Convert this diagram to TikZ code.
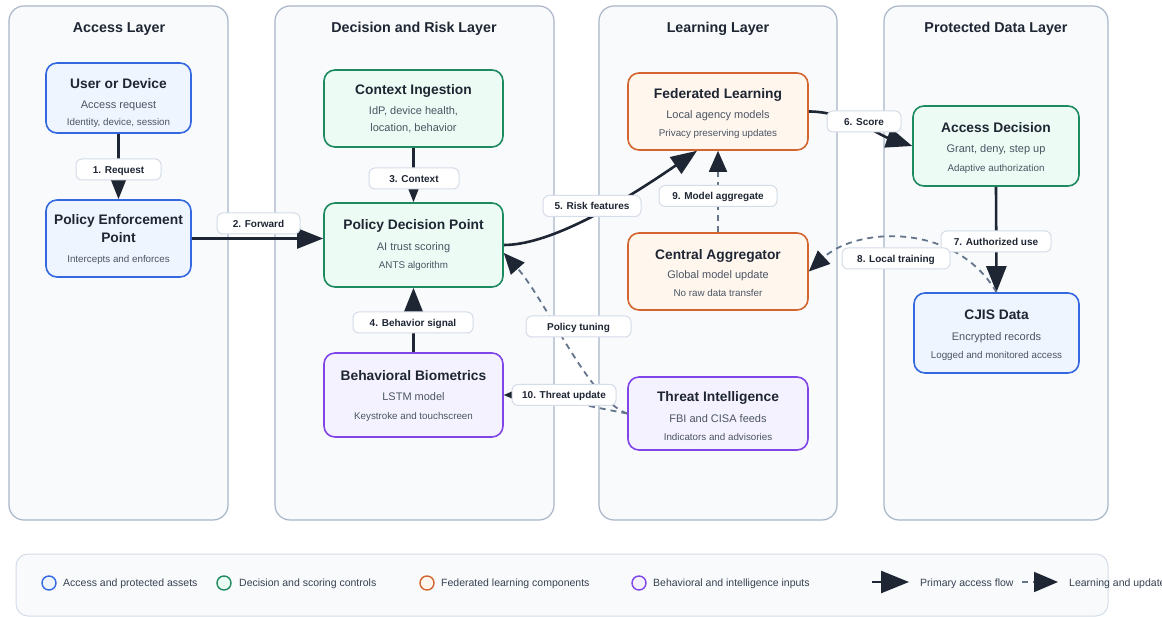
\documentclass[tikz,border=0pt]{standalone}
\usepackage{fontspec}
\setmainfont{Liberation Sans}
\usetikzlibrary{arrows.meta,calc}

\definecolor{accB}{HTML}{3468E0}
\definecolor{fillB}{HTML}{EFF5FF}
\definecolor{accG}{HTML}{1E8A60}
\definecolor{fillG}{HTML}{ECFBF4}
\definecolor{accO}{HTML}{D4652F}
\definecolor{fillO}{HTML}{FFF6EE}
\definecolor{accP}{HTML}{8045E6}
\definecolor{fillP}{HTML}{F5F2FF}
\definecolor{laneFill}{HTML}{F8FAFC}
\definecolor{laneLine}{HTML}{A9B5C8}
\definecolor{ink}{HTML}{1F2633}
\definecolor{subInk}{HTML}{4B5563}
\definecolor{keyInk}{HTML}{374151}
\definecolor{dashInk}{HTML}{64748B}
\definecolor{tagLine}{HTML}{D5DDE8}

\begin{document}
\begin{tikzpicture}[x=1pt,y=-1pt,
  lane/.style={draw=laneLine, fill=laneFill, line width=1.2pt, rounded corners=15pt, inner sep=0pt},
  lanetitle/.style={anchor=base, inner sep=0pt, text=ink, font=\fontsize{14.3}{16}\selectfont\bfseries},
  comp/.style={draw=#1, line width=1.6pt, rounded corners=11pt, inner sep=0pt},
  blueBox/.style={comp=accB, fill=fillB},
  greenBox/.style={comp=accG, fill=fillG},
  orangeBox/.style={comp=accO, fill=fillO},
  purpleBox/.style={comp=accP, fill=fillP},
  ttl/.style={anchor=base, inner sep=0pt, text=ink, font=\fontsize{13.8}{16}\selectfont\bfseries},
  sub/.style={anchor=base, inner sep=0pt, text=subInk, font=\fontsize{11}{13}\selectfont},
  dtl/.style={anchor=base, inner sep=0pt, text=subInk, font=\fontsize{9.8}{12}\selectfont},
  tag/.style={draw=tagLine, fill=white, line width=1pt, rounded corners=6pt,
    minimum height=21pt, inner xsep=4pt, inner ysep=0pt, text height=7.2pt, text depth=0pt,
    text=ink, font=\fontsize{10}{12}\selectfont\bfseries},
  flow/.style={draw=ink, line width=2.6pt, -{Triangle[length=26pt,width=20pt]}},
  learn/.style={draw=dashInk, line width=1.8pt, dash pattern=on 6pt off 5pt,
    -{Triangle[length=21pt,width=18pt,color=ink]}},
  keydot/.style={circle, draw=#1, line width=1.4pt, minimum size=14pt, inner sep=0pt},
  keytext/.style={anchor=base west, inner sep=0pt, text=keyInk, font=\fontsize{10.5}{12}\selectfont},
]
\useasboundingbox (0,0) rectangle (1162,617);
\clip (0,0) rectangle (1162,617);
\fill[white] (0,0) rectangle (1162,617);

% ---- swimlanes ----
\node[lane, minimum width=219pt, minimum height=514pt] (lane-access) at (118.5,263) {};
\node[lane, minimum width=279pt, minimum height=514pt] (lane-risk) at (414.5,263) {};
\node[lane, minimum width=238pt, minimum height=514pt] (lane-learn) at (718,263) {};
\node[lane, minimum width=224pt, minimum height=514pt] (lane-data) at (996,263) {};
\node[lanetitle] (lane-access-t) at (119,33) {Access Layer};
\node[lanetitle] (lane-risk-t) at (414,33) {Decision and Risk Layer};
\node[lanetitle] (lane-learn-t) at (718,33) {Learning Layer};
\node[lanetitle] (lane-data-t) at (996,33) {Protected Data Layer};

% ---- components ----
\node[blueBox, minimum width=145pt, minimum height=70pt] (user) at (118.5,98) {};
\node[ttl] (user-t) at (118.5,89) {User or Device};
\node[sub] (user-s) at (118.5,109) {Access request};
\node[dtl] (user-d) at (118.5,125.5) {Identity, device, session};

\node[blueBox, minimum width=145pt, minimum height=77pt] (pep) at (118.5,238.5) {};
\node[ttl] (pep-t1) at (118.5,225) {Policy Enforcement};
\node[ttl] (pep-t2) at (118.5,243) {Point};
\node[dtl] (pep-d) at (118.5,262.5) {Intercepts and enforces};

\node[greenBox, minimum width=179pt, minimum height=77pt] (ctx) at (413.5,108.5) {};
\node[ttl] (ctx-t) at (413.5,95) {Context Ingestion};
\node[sub] (ctx-s1) at (413.5,115) {IdP, device health,};
\node[sub] (ctx-s2) at (413.5,132) {location, behavior};

\node[greenBox, minimum width=179pt, minimum height=84pt] (pdp) at (413.5,245) {};
\node[ttl] (pdp-t) at (413.5,230) {Policy Decision Point};
\node[sub] (pdp-s) at (413.5,251) {AI trust scoring};
\node[dtl] (pdp-d) at (413.5,268.5) {ANTS algorithm};

\node[purpleBox, minimum width=179pt, minimum height=84pt] (bio) at (413.5,395) {};
\node[ttl] (bio-t) at (413.5,381) {Behavioral Biometrics};
\node[sub] (bio-s) at (413.5,401) {LSTM model};
\node[dtl] (bio-d) at (413.5,419.5) {Keystroke and touchscreen};

\node[orangeBox, minimum width=180pt, minimum height=77pt] (fl) at (718,111.5) {};
\node[ttl] (fl-t) at (718,99) {Federated Learning};
\node[sub] (fl-s) at (718,119) {Local agency models};
\node[dtl] (fl-d) at (718,136.5) {Privacy preserving updates};

\node[orangeBox, minimum width=180pt, minimum height=77pt] (agg) at (718,271.5) {};
\node[ttl] (agg-t) at (718,260) {Central Aggregator};
\node[sub] (agg-s) at (718,279) {Global model update};
\node[dtl] (agg-d) at (718,296.5) {No raw data transfer};

\node[purpleBox, minimum width=180pt, minimum height=73pt] (ti) at (718,413.5) {};
\node[ttl] (ti-t) at (718,402) {Threat Intelligence};
\node[sub] (ti-s) at (718,423) {FBI and CISA feeds};
\node[dtl] (ti-d) at (718,440.5) {Indicators and advisories};

\node[greenBox, minimum width=166pt, minimum height=80pt] (ad) at (996,146) {};
\node[ttl] (ad-t) at (996,133) {Access Decision};
\node[sub] (ad-s) at (996,153) {Grant, deny, step up};
\node[dtl] (ad-d) at (996,171.5) {Adaptive authorization};

\node[blueBox, minimum width=165pt, minimum height=80pt] (cjis) at (996.5,333) {};
\node[ttl] (cjis-t) at (996.5,320) {CJIS Data};
\node[sub] (cjis-s) at (996.5,341) {Encrypted records};
\node[dtl] (cjis-d) at (996.5,358.5) {Logged and monitored access};

% ---- connector end points off the box centres ----
\coordinate (fl-in) at ($(fl.south)+(-21,0)$);
\coordinate (pdp-pt) at ($(pdp.east)+(0,8)$);

% ---- primary access flow ----
\draw[flow] (user.south) -- (pep.north);
\draw[flow] (pep.east) -- (pep.east -| pdp.west);
\draw[flow] (ctx.south) -- (pdp.north);
\draw[flow] (bio.north) -- (pdp.south);
\draw[flow] (pdp.east) .. controls +(42,0) and +(-87,60) .. (fl-in);
\draw[flow] (fl.east) .. controls +(37,0) and +(-33,-11) .. (ad.west);
\draw[flow] (ad.south) -- (cjis.north);

% ---- learning and update flow ----
\draw[learn] (cjis.north) .. controls +(-42,-71) and +(47,-44) .. (agg.east);
\draw[learn] (agg.north) -- (fl.south);
\draw[learn] (ti.west) .. controls +(-43,-8) and +(37,0) .. (bio.east);
\draw[learn] (ti.west) .. controls +(-38,-13) and +(42,47) .. (pdp-pt);

% ---- connector labels ----
\node[tag, minimum width=85pt] (tag1) at (118.5,169.5) {1. Request};
\node[tag, minimum width=83pt] (tag2) at (258.5,223.5) {2. Forward};
\node[tag, minimum width=90pt] (tag3) at (414,178.5) {3. Context};
\node[tag, minimum width=120pt] (tag4) at (413,322.5) {4. Behavior signal};
\node[tag, minimum width=98pt] (tag5) at (592,206) {5. Risk features};
\node[tag, minimum width=74pt] (tag6) at (864,121.5) {6. Score};
\node[tag, minimum width=110pt] (tag7) at (996,241.5) {7. Authorized use};
\node[tag, minimum width=108pt] (tag8) at (896,258.5) {8. Local training};
\node[tag, minimum width=118pt] (tag9) at (718,196) {9. Model aggregate};
\node[tag, minimum width=105pt] (tagpt) at (578.5,326.5) {Policy tuning};
\node[tag, minimum width=104pt] (tag10) at (564,395) {10. Threat update};

% ---- legend ----
\node[draw=tagLine, fill=laneFill, line width=1pt, rounded corners=12pt, inner sep=0pt,
      minimum width=1092pt, minimum height=62pt] (legend) at (562,585) {};
\node[keydot=accB, fill=fillB] (key-b) at (49,583) {};
\node[keytext] (key-b-t) at (63,586.8) {Access and protected assets};
\node[keydot=accG, fill=fillG] (key-g) at (224,583) {};
\node[keytext] (key-g-t) at (239,586.8) {Decision and scoring controls};
\node[keydot=accO, fill=fillO] (key-o) at (427,583) {};
\node[keytext] (key-o-t) at (441,586.8) {Federated learning components};
\node[keydot=accP, fill=fillP] (key-p) at (639,583) {};
\node[keytext] (key-p-t) at (653,586.8) {Behavioral and intelligence inputs};
\coordinate (key-f1) at (872,582);
\coordinate (key-f2) at (909,582);
\draw[flow, -{Triangle[length=28pt,width=22pt]}] (key-f1) -- (key-f2);
\node[keytext] (key-f-t) at (920,586.8) {Primary access flow};
\coordinate (key-l1) at (1022,582);
\coordinate (key-l2) at (1058,582);
\draw[learn, -{Triangle[length=24pt,width=20pt,color=ink]}] (key-l1) -- (key-l2);
\node[keytext] (key-l-t) at (1069,586.8) {Learning and updates};
\end{tikzpicture}
\end{document}
